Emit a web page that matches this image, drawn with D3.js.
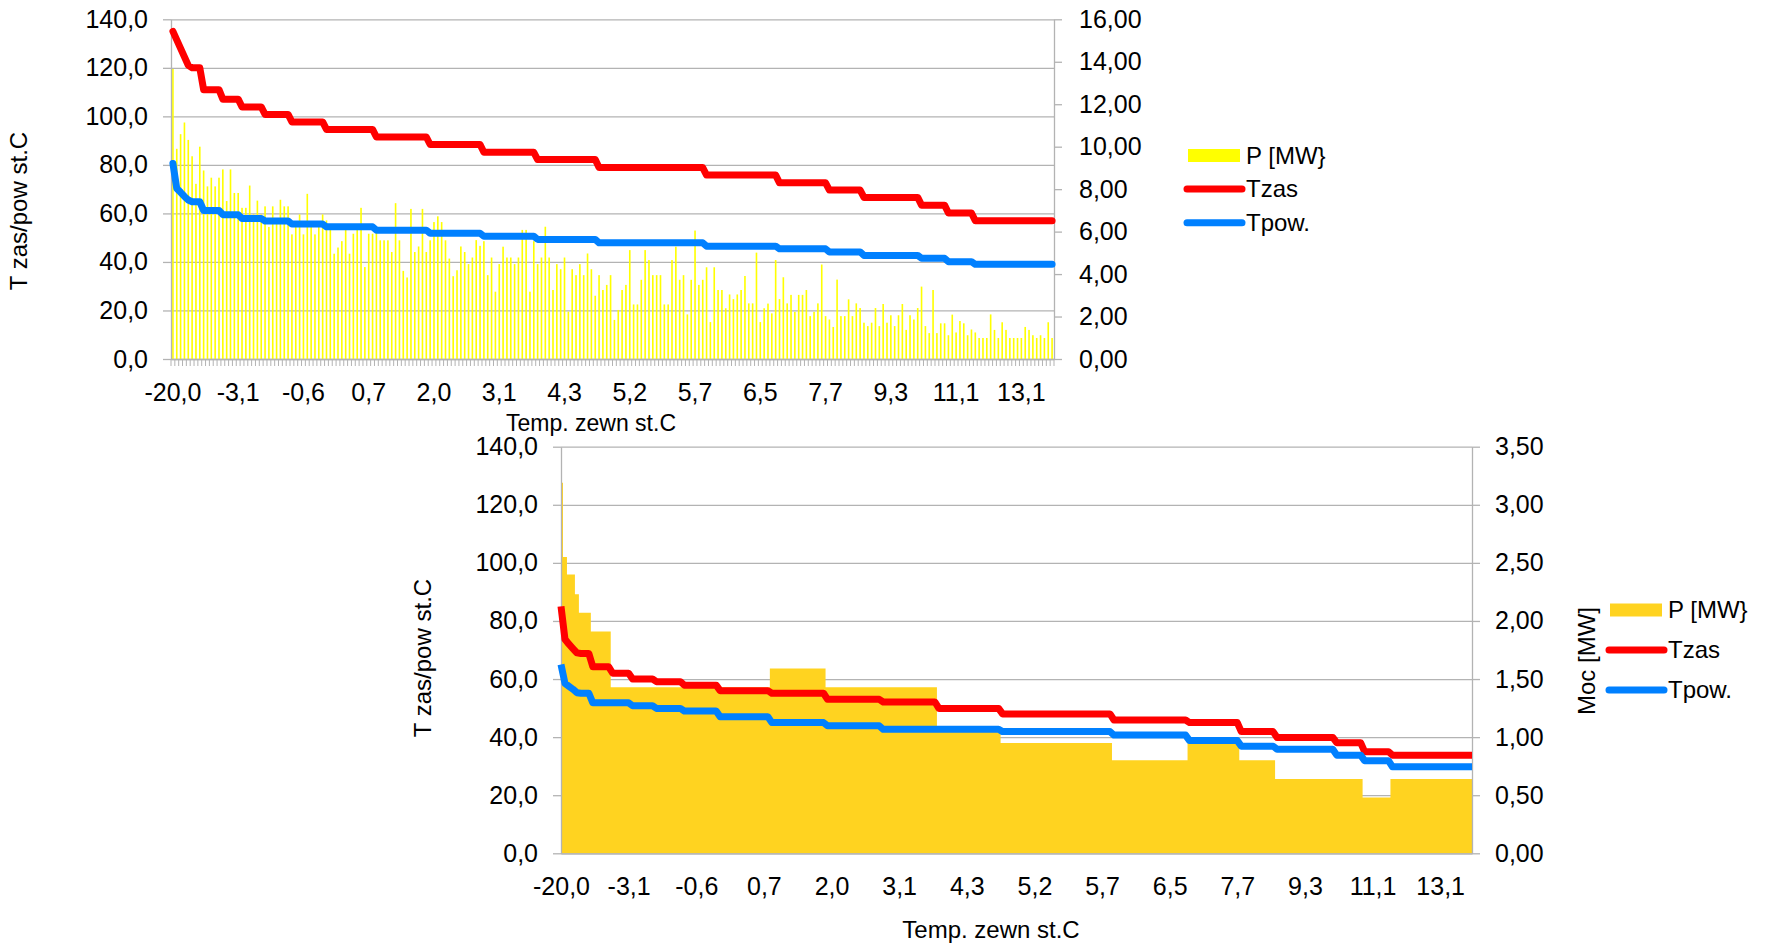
<!DOCTYPE html>
<html><head><meta charset="utf-8">
<script src="https://cdn.jsdelivr.net/npm/d3@7"></script>
<style>
body{margin:0;background:#fff;}
text{font-family:"Liberation Sans",Arial,sans-serif;fill:#000;}
</style>
</head><body>
<svg id="c" width="1765" height="943"></svg>
<script>
// ---------- tick labels ----------
const xTickLabels = ["-20,0","-3,1","-0,6","0,7","2,0","3,1","4,3","5,2","5,7","6,5","7,7","9,3","11,1","13,1"];
const labelStep = 17;
const leftTicks = [0,20,40,60,80,100,120,140];
const rightTicksTop = [0,2,4,6,8,10,12,14,16];
const rightTicksBottom = [0,0.5,1,1.5,2,2.5,3,3.5];

// ---------- top chart series ----------
const pTop = [
13.66,9.90,10.59,11.14,10.32,9.55,8.25,10.00,8.88,8.13,
8.54,8.13,8.54,8.93,7.44,8.93,7.82,7.82,7.12,7.12,
8.17,6.81,7.46,6.81,7.19,6.22,7.19,6.53,7.50,7.19,
7.19,5.87,6.22,6.81,5.87,7.78,6.22,5.87,6.22,6.81,
6.53,6.22,4.96,5.25,5.55,6.22,4.96,5.90,6.22,7.12,
4.33,5.90,5.90,6.22,5.59,5.59,5.59,5.04,7.34,5.59,
4.15,3.84,7.07,5.04,5.30,7.07,5.04,5.59,6.45,6.72,
6.45,5.59,4.73,3.90,4.18,5.30,5.04,4.47,4.78,5.60,
5.33,5.55,3.95,4.78,3.17,4.47,5.29,4.78,4.78,4.47,
4.78,6.08,6.08,3.17,5.55,4.47,4.78,6.23,4.78,3.25,
4.47,4.23,4.78,2.23,4.23,3.95,4.47,3.95,4.97,4.23,
2.98,3.95,3.25,3.49,3.95,1.84,2.31,3.25,3.49,5.13,
2.57,2.57,3.73,5.13,4.66,3.95,3.95,3.95,2.57,2.57,
4.66,5.29,3.73,3.95,2.10,3.73,6.05,3.49,3.73,4.32,
1.74,4.32,3.25,3.25,2.39,3.04,2.82,3.04,3.25,3.91,
2.62,2.62,5.01,1.74,2.39,2.61,2.15,4.66,2.82,3.85,
2.62,3.02,2.22,3.02,3.02,3.25,2.02,2.22,2.62,4.45,
2.02,1.86,1.51,3.74,2.02,2.02,2.81,2.02,2.62,2.40,
1.71,1.55,1.71,2.40,1.55,2.59,1.71,2.06,1.55,2.06,
2.59,1.37,2.06,1.86,2.40,3.41,1.55,1.22,3.25,1.22,
1.68,1.68,1.12,2.09,1.25,1.79,1.68,1.12,1.39,1.25,
0.99,0.99,0.99,2.10,1.37,0.99,1.73,1.37,0.99,0.99,
0.99,0.99,1.51,1.37,1.12,0.99,1.12,0.99,1.73,0.99
];
const tzasTop = [
135,131.5,128,124.5,121,120,120,120,
111,111,111,111,111,
107.1,107.1,107.1,107.1,107.1,
103.9,103.9,103.9,103.9,103.9,103.9,
100.8,100.8,100.8,100.8,100.8,100.8,100.8,
97.7,97.7,97.7,97.7,97.7,97.7,97.7,97.7,97.7,
94.6,94.6,94.6,94.6,94.6,94.6,94.6,94.6,94.6,94.6, 94.6,94.6,94.6,
91.5,91.5,91.5,91.5,91.5,91.5,91.5,91.5,91.5,91.5, 91.5,91.5,91.5,91.5,
88.4,88.4,88.4,88.4,88.4,88.4,88.4,88.4,88.4,88.4, 88.4,88.4,88.4,88.4,
85.2,85.2,85.2,85.2,85.2,85.2,85.2,85.2,85.2,85.2, 85.2,85.2,85.2,85.2,
82.2,82.2,82.2,82.2,82.2,82.2,82.2,82.2,82.2,82.2, 82.2,82.2,82.2,82.2,82.2,82.2,
78.9,78.9,78.9,78.9,78.9,78.9,78.9,78.9,78.9,78.9, 78.9,78.9,78.9,78.9,78.9,78.9,78.9,78.9,78.9,78.9, 78.9,78.9,78.9,78.9,78.9,78.9,78.9,78.9,
75.8,75.8,75.8,75.8,75.8,75.8,75.8,75.8,75.8,75.8, 75.8,75.8,75.8,75.8,75.8,75.8,75.8,75.8,75.8,
72.6,72.6,72.6,72.6,72.6,72.6,72.6,72.6,72.6,72.6, 72.6,72.6,72.6,
69.6,69.6,69.6,69.6,69.6,69.6,69.6,69.6,69.6,
66.6,66.6,66.6,66.6,66.6,66.6,66.6,66.6,66.6,66.6, 66.6,66.6,66.6,66.6,66.6,
63.4,63.4,63.4,63.4,63.4,63.4,63.4,
60.2,60.2,60.2,60.2,60.2,60.2,60.2,
57,57,57,57,57,57,57,57,57,57, 57,57,57,57,57,57,57,57,57,57, 57
];
const tpowTop = [
80.6,70.3,68.7,67,65.5,64.8,64.8,64.8,
61.2,61.2,61.2,61.2,61.2,
59.5,59.5,59.5,59.5,59.5,
57.9,57.9,57.9,57.9,57.9,57.9,
56.9,56.9,56.9,56.9,56.9,56.9,56.9,
55.6,55.6,55.6,55.6,55.6,55.6,55.6,55.6,55.6,
54.5,54.5,54.5,54.5,54.5,54.5,54.5,54.5,54.5,54.5, 54.5,54.5,54.5,
53.1,53.1,53.1,53.1,53.1,53.1,53.1,53.1,53.1,53.1, 53.1,53.1,53.1,53.1,
51.8,51.8,51.8,51.8,51.8,51.8,51.8,51.8,51.8,51.8, 51.8,51.8,51.8,51.8,
50.6,50.6,50.6,50.6,50.6,50.6,50.6,50.6,50.6,50.6, 50.6,50.6,50.6,50.6,
49.3,49.3,49.3,49.3,49.3,49.3,49.3,49.3,49.3,49.3, 49.3,49.3,49.3,49.3,49.3,49.3,
47.9,47.9,47.9,47.9,47.9,47.9,47.9,47.9,47.9,47.9, 47.9,47.9,47.9,47.9,47.9,47.9,47.9,47.9,47.9,47.9, 47.9,47.9,47.9,47.9,47.9,47.9,47.9,47.9,
46.5,46.5,46.5,46.5,46.5,46.5,46.5,46.5,46.5,46.5, 46.5,46.5,46.5,46.5,46.5,46.5,46.5,46.5,46.5,
45.4,45.4,45.4,45.4,45.4,45.4,45.4,45.4,45.4,45.4, 45.4,45.4,45.4,
44.1,44.1,44.1,44.1,44.1,44.1,44.1,44.1,44.1,
42.7,42.7,42.7,42.7,42.7,42.7,42.7,42.7,42.7,42.7, 42.7,42.7,42.7,42.7,42.7,
41.5,41.5,41.5,41.5,41.5,41.5,41.5,
40.1,40.1,40.1,40.1,40.1,40.1,40.1,
39,39,39,39,39,39,39,39,39,39, 39,39,39,39,39,39,39,39,39,39, 39
];

// ---------- bottom chart series ----------
const pBottom = [
3.19,2.55,2.40,2.40,2.23,2.07,2.07,2.07,
1.91,1.91,1.91,1.91,1.91,
1.43,1.43,1.43,1.43,1.43,1.43,1.43,1.43,1.43,1.43, 1.43,1.43,1.43,1.43,1.43,1.43,1.43,1.43,1.43,1.43,
1.43,1.43,1.43,1.43,1.43,1.43,1.43,1.43,1.43,1.43, 1.43,1.43,1.43,1.43,1.43,1.43,1.43,1.43,1.43,1.43,
1.59,1.59,1.59,1.59,1.59,1.59,1.59,1.59,1.59,1.59, 1.59,1.59,1.59,1.59,
1.43,1.43,1.43,1.43,1.43,1.43,1.43,1.43,1.43,1.43, 1.43,1.43,1.43,1.43,1.43,1.43,1.43,1.43,1.43,1.43, 1.43,1.43,1.43,1.43,1.43,1.43,1.43,1.43,
1.05,1.05,1.05,1.05,1.05,1.05,1.05,1.05,1.05,1.05, 1.05,1.05,1.05,1.05,1.05,1.05,
0.95,0.95,0.95,0.95,0.95,0.95,0.95,0.95,0.95,0.95, 0.95,0.95,0.95,0.95,0.95,0.95,0.95,0.95,0.95,0.95, 0.95,0.95,0.95,0.95,0.95,0.95,0.95,0.95,
0.80,0.80,0.80,0.80,0.80,0.80,0.80,0.80,0.80,0.80, 0.80,0.80,0.80,0.80,0.80,0.80,0.80,0.80,0.80,
0.95,0.95,0.95,0.95,0.95,0.95,0.95,0.95,0.95,0.95, 0.95,0.95,0.95,
0.80,0.80,0.80,0.80,0.80,0.80,0.80,0.80,0.80,
0.64,0.64,0.64,0.64,0.64,0.64,0.64,0.64,0.64,0.64, 0.64,0.64,0.64,0.64,0.64,0.64,0.64,0.64,0.64,0.64, 0.64,0.64,
0.48,0.48,0.48,0.48,0.48,0.48,0.48,
0.64,0.64,0.64,0.64,0.64,0.64,0.64,0.64,0.64,0.64, 0.64,0.64,0.64,0.64,0.64,0.64,0.64,0.64,0.64,0.64, 0.64
];
const tzasBottom = [
85,73.7,72,70.5,69,68.8,68.8,68.8,
64.2,64.2,64.2,64.2,64.2,
62,62,62,62,62,
60,60,60,60,60,60,
59.1,59.1,59.1,59.1,59.1,59.1,59.1,
57.9,57.9,57.9,57.9,57.9,57.9,57.9,57.9,57.9,
56,56,56,56,56,56,56,56,56,56, 56,56,56,
55.1,55.1,55.1,55.1,55.1,55.1,55.1,55.1,55.1,55.1, 55.1,55.1,55.1,55.1,
53,53,53,53,53,53,53,53,53,53, 53,53,53,53,
52.1,52.1,52.1,52.1,52.1,52.1,52.1,52.1,52.1,52.1, 52.1,52.1,52.1,52.1,
49.9,49.9,49.9,49.9,49.9,49.9,49.9,49.9,49.9,49.9, 49.9,49.9,49.9,49.9,49.9,49.9,
48,48,48,48,48,48,48,48,48,48, 48,48,48,48,48,48,48,48,48,48, 48,48,48,48,48,48,48,48,
45.9,45.9,45.9,45.9,45.9,45.9,45.9,45.9,45.9,45.9, 45.9,45.9,45.9,45.9,45.9,45.9,45.9,45.9,45.9,
45,45,45,45,45,45,45,45,45,45, 45,45,45,
41.9,41.9,41.9,41.9,41.9,41.9,41.9,41.9,41.9,
39.9,39.9,39.9,39.9,39.9,39.9,39.9,39.9,39.9,39.9, 39.9,39.9,39.9,39.9,39.9,
38.1,38.1,38.1,38.1,38.1,38.1,38.1,
35,35,35,35,35,35,35,
33.8,33.8,33.8,33.8,33.8,33.8,33.8,33.8,33.8,33.8, 33.8,33.8,33.8,33.8,33.8,33.8,33.8,33.8,33.8,33.8, 33.8
];
const tpowBottom = [
65,58.5,57.5,56.5,55.3,55.1,55.1,55.1,
51.8,51.8,51.8,51.8,51.8,51.8,51.8,51.8,51.8,51.8,
50.8,50.8,50.8,50.8,50.8,50.8,
49.9,49.9,49.9,49.9,49.9,49.9,49.9,
49,49,49,49,49,49,49,49,49,
47,47,47,47,47,47,47,47,47,47, 47,47,47,
45,45,45,45,45,45,45,45,45,45, 45,45,45,45,
43.9,43.9,43.9,43.9,43.9,43.9,43.9,43.9,43.9,43.9, 43.9,43.9,43.9,43.9,
42.7,42.7,42.7,42.7,42.7,42.7,42.7,42.7,42.7,42.7, 42.7,42.7,42.7,42.7,42.7,42.7,42.7,42.7,42.7,42.7, 42.7,42.7,42.7,42.7,42.7,42.7,42.7,42.7,42.7,42.7,
41.9,41.9,41.9,41.9,41.9,41.9,41.9,41.9,41.9,41.9, 41.9,41.9,41.9,41.9,41.9,41.9,41.9,41.9,41.9,41.9, 41.9,41.9,41.9,41.9,41.9,41.9,41.9,41.9,
40.7,40.7,40.7,40.7,40.7,40.7,40.7,40.7,40.7,40.7, 40.7,40.7,40.7,40.7,40.7,40.7,40.7,40.7,40.7,
38.8,38.8,38.8,38.8,38.8,38.8,38.8,38.8,38.8,38.8, 38.8,38.8,38.8,
36.9,36.9,36.9,36.9,36.9,36.9,36.9,36.9,36.9,
35.8,35.8,35.8,35.8,35.8,35.8,35.8,35.8,35.8,35.8, 35.8,35.8,35.8,35.8,35.8,
33.8,33.8,33.8,33.8,33.8,33.8,33.8,
31.9,31.9,31.9,31.9,31.9,31.9,31.9,
29.8,29.8,29.8,29.8,29.8,29.8,29.8,29.8,29.8,29.8, 29.8,29.8,29.8,29.8,29.8,29.8,29.8,29.8,29.8,29.8, 29.8
];

// ---------- styling ----------
const GRID = "#b3b3b3";
const RED = "#ff0000", BLUE = "#0080ff", YELLOW = "#ffff00", GOLD = "#ffd320";
const FONT = '"Liberation Sans", Arial, sans-serif';
const fmt1 = v => d3.format(".1f")(v).replace(".", ",");
const fmt2 = v => d3.format(".2f")(v).replace(".", ",");

const svg = d3.select("#c");

function styleAxis(g, size) {
  g.attr("font-family", FONT).attr("font-size", size);
  g.selectAll(".domain").attr("stroke", GRID).attr("stroke-width", 1.3);
  g.selectAll(".tick line").attr("stroke", GRID).attr("stroke-width", 1.3);
  g.selectAll(".tick text").attr("fill", "#000");
}
function grid(yScale, x0, x1) {
  const g = svg.append("g").attr("transform", `translate(${x0},0)`)
    .call(d3.axisLeft(yScale).tickValues(leftTicks).tickSize(-(x1 - x0)).tickFormat(""));
  g.select(".domain").remove();
  g.selectAll(".tick line").attr("stroke", GRID).attr("stroke-width", 1.3);
}
function legend(x, items) {
  const g = svg.append("g");
  items.forEach(it => {
    if (it.type === "rect") {
      g.append("rect").attr("x", x + 2).attr("y", it.y - 6.5).attr("width", 52).attr("height", 13).attr("fill", it.color);
    } else {
      g.append("line").attr("x1", x + 1).attr("x2", x + 56).attr("y1", it.y).attr("y2", it.y)
        .attr("stroke", it.color).attr("stroke-width", 7).attr("stroke-linecap", "round");
    }
    g.append("text").attr("x", x + 60).attr("y", it.y + 8).attr("font-size", 24).text(it.name);
  });
}
const labelIdx = xTickLabels.map((_, k) => k * labelStep);

// ================= TOP CHART =================
(function(){
  const X0 = 171, X1 = 1054, YB = 359, YT = 19.3;
  const x = d3.scaleBand().domain(d3.range(pTop.length)).range([X0, X1]).paddingInner(0.58).paddingOuter(0.29);
  const yL = d3.scaleLinear().domain([0, 140]).range([YB, YT]);
  const yR = d3.scaleLinear().domain([0, 16]).range([YB, YT]);
  const cx = i => x(i) + x.bandwidth() / 2;

  grid(yL, X0, X1);

  svg.append("g").selectAll("rect").data(pTop).join("rect")
    .attr("x", (d, i) => x(i)).attr("width", x.bandwidth())
    .attr("y", d => yR(d)).attr("height", d => yR(0) - yR(d)).attr("fill", YELLOW);

  // category tick marks
  const step = x.step();
  const bounds = d3.range(pTop.length + 1).map(k => X0 + k * step);
  svg.append("g").selectAll("line").data(bounds).join("line")
    .attr("x1", d => d).attr("x2", d => d).attr("y1", YB).attr("y2", YB + 7)
    .attr("stroke", GRID).attr("stroke-width", 1);

  const gx = svg.append("g").attr("transform", `translate(0,${YB})`)
    .call(d3.axisBottom(x).tickValues(labelIdx).tickSize(0).tickPadding(24).tickSizeOuter(0)
      .tickFormat(d => xTickLabels[d / labelStep]));
  styleAxis(gx, 25);

  const gl = svg.append("g").attr("transform", `translate(${X0},0)`)
    .call(d3.axisLeft(yL).tickValues(leftTicks).tickSize(8).tickPadding(15).tickSizeOuter(0).tickFormat(fmt1));
  styleAxis(gl, 25);
  const gr = svg.append("g").attr("transform", `translate(${X1},0)`)
    .call(d3.axisRight(yR).tickValues(rightTicksTop).tickSize(8).tickPadding(17).tickSizeOuter(0).tickFormat(fmt2));
  styleAxis(gr, 25);

  const line = arr => d3.line().x((d, i) => cx(i)).y(d => yL(d))(arr);
  svg.append("path").attr("d", line(tzasTop)).attr("fill", "none").attr("stroke", RED)
    .attr("stroke-width", 7).attr("stroke-linejoin", "round").attr("stroke-linecap", "round");
  svg.append("path").attr("d", line(tpowTop)).attr("fill", "none").attr("stroke", BLUE)
    .attr("stroke-width", 7).attr("stroke-linejoin", "round").attr("stroke-linecap", "round");

  svg.append("text").attr("transform", "translate(27,211) rotate(-90)").attr("text-anchor", "middle")
    .attr("font-size", 24).text("T zas/pow st.C");
  svg.append("text").attr("x", 591).attr("y", 431).attr("text-anchor", "middle")
    .attr("font-size", 23).text("Temp. zewn st.C");

  legend(1186, [
    {name: "P [MW}", type: "rect", color: YELLOW, y: 155.5},
    {name: "Tzas", type: "line", color: RED, y: 189},
    {name: "Tpow.", type: "line", color: BLUE, y: 222.7}
  ]);
})();

// ================= BOTTOM CHART =================
(function(){
  const X0 = 561, X1 = 1472, YB = 853.3, YT = 446.7;
  const x = d3.scalePoint().domain(d3.range(pBottom.length)).range([X0, X1]);
  const yL = d3.scaleLinear().domain([0, 140]).range([YB, YT]);
  const yR = d3.scaleLinear().domain([0, 3.5]).range([YB, YT]);

  grid(yL, X0, X1);

  const area = d3.area().x((d, i) => x(i)).y0(yR(0)).y1(d => yR(d)).curve(d3.curveStep);
  svg.append("path").attr("d", area(pBottom)).attr("fill", GOLD);

  const gx = svg.append("g").attr("transform", `translate(0,${YB})`)
    .call(d3.axisBottom(x).tickValues(labelIdx).tickSize(0).tickPadding(24).tickSizeOuter(0)
      .tickFormat(d => xTickLabels[d / labelStep]));
  styleAxis(gx, 25);

  const gl = svg.append("g").attr("transform", `translate(${X0},0)`)
    .call(d3.axisLeft(yL).tickValues(leftTicks).tickSize(8).tickPadding(15).tickSizeOuter(0).tickFormat(fmt1));
  styleAxis(gl, 25);
  const gr = svg.append("g").attr("transform", `translate(${X1},0)`)
    .call(d3.axisRight(yR).tickValues(rightTicksBottom).tickSize(8).tickPadding(15).tickSizeOuter(0).tickFormat(fmt2));
  styleAxis(gr, 25);

  const line = arr => d3.line().x((d, i) => x(i)).y(d => yL(d))(arr);
  svg.append("path").attr("d", line(tzasBottom)).attr("fill", "none").attr("stroke", RED)
    .attr("stroke-width", 7).attr("stroke-linejoin", "round");
  svg.append("path").attr("d", line(tpowBottom)).attr("fill", "none").attr("stroke", BLUE)
    .attr("stroke-width", 7).attr("stroke-linejoin", "round");

  svg.append("text").attr("transform", "translate(431,658) rotate(-90)").attr("text-anchor", "middle")
    .attr("font-size", 24).text("T zas/pow st.C");
  svg.append("text").attr("transform", "translate(1595,661) rotate(-90)").attr("text-anchor", "middle")
    .attr("font-size", 24).text("Moc [MW]");
  svg.append("text").attr("x", 991).attr("y", 938).attr("text-anchor", "middle")
    .attr("font-size", 24).text("Temp. zewn st.C");

  legend(1608, [
    {name: "P [MW}", type: "rect", color: GOLD, y: 610},
    {name: "Tzas", type: "line", color: RED, y: 650},
    {name: "Tpow.", type: "line", color: BLUE, y: 690}
  ]);
})();
</script>
</body></html>
